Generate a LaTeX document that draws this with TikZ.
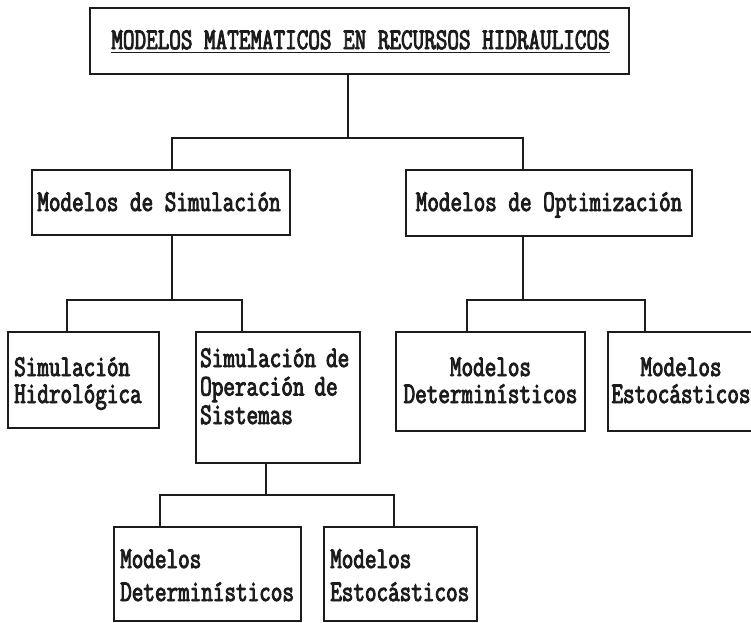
\documentclass[tikz,border=0pt]{standalone}
\usepackage{fontspec}
\newfontfamily\dotfont{Latin Modern Mono}[FakeStretch=0.75,FakeBold=3]
\definecolor{ink}{HTML}{1C1C1C}
\tikzset{
  box/.style={draw=ink, line width=2pt, inner sep=0pt},
  link/.style={draw=ink, line width=1.4pt},
  lbl/.style={inner sep=0pt, text=ink, font={\dotfont\fontsize{30}{27}\selectfont}},
  lefttxt/.style={lbl, align=left, text width=190pt, anchor=base west},
  midtxt/.style={lbl, align=center, text width=190pt, anchor=base}
}
\begin{document}
\begin{tikzpicture}[x=1pt,y=-1pt]
  \clip (0,0) rectangle (751,622);
  \fill[white] (0,0) rectangle (751,622);

  % level 0
  \node[box, minimum width=539pt, minimum height=66pt] (top) at (359.5,41) {};
  \node[lbl, anchor=base] (title) at (360.5,49) {MODELOS MATEMATICOS EN RECURSOS HIDRAULICOS};
  \draw[ink, line width=1.8pt] ([yshift=-3.5pt]title.base west) -- ([yshift=-3.5pt]title.base east);

  % level 1
  \node[box, minimum width=258pt, minimum height=65pt] (sim) at (161,202.5) {};
  \node[lbl, anchor=base] (simt) at (159,211) {Modelos de Simulación};
  \node[box, minimum width=286pt, minimum height=66pt] (opt) at (549,203) {};
  \node[lbl, anchor=base] (optt) at (549,211) {Modelos de Optimización};

  % level 2
  \node[box, minimum width=151pt, minimum height=96pt] (hid) at (83.5,380) {};
  \node[lefttxt] (hidt) at (14,376) {Simulación\\Hidrológica};
  \node[box, minimum width=164pt, minimum height=131pt] (ope) at (278,397.5) {};
  \node[lefttxt] (opet) at (200,367) {Simulación de\\[1.5pt]Operación de\\[1.5pt]Sistemas};
  \node[box, minimum width=189pt, minimum height=99pt] (det) at (490.5,381.5) {};
  \node[midtxt] (dett) at (490.5,376) {Modelos\\Determinísticos};
  \node[box, minimum width=167pt, minimum height=99pt] (est) at (691.5,381.5) {};
  \node[midtxt] (estt) at (681,376) {Modelos\\Estocásticos};

  % level 3
  \node[box, minimum width=187pt, minimum height=94pt] (det2) at (207.5,574) {};
  \node[lefttxt] (det2t) at (120,568) {Modelos\\[6pt]Determinísticos};
  \node[box, minimum width=153pt, minimum height=94pt] (est2) at (400.5,574) {};
  \node[lefttxt] (est2t) at (330,568) {Modelos\\[6pt]Estocásticos};

  % bus junctions
  \coordinate (j0) at (348,138);
  \coordinate (ds) at (172,138);
  \coordinate (do) at (523,138);
  \coordinate (js) at (172,300);
  \coordinate (jsa) at (67,300);
  \coordinate (jsb) at (242,300);
  \coordinate (jo) at (523,300);
  \coordinate (joa) at (467,300);
  \coordinate (job) at (645,300);
  \coordinate (jp) at (266,495);
  \coordinate (jpa) at (160,495);
  \coordinate (jpb) at (394,495);

  % connectors
  \draw[link] (top.south -| j0) -- (j0);
  \draw[link] (sim.north -| ds) -- (ds) -- (do) -- (opt.north -| do);

  \draw[link] (sim.south -| js) -- (js);
  \draw[link] (hid.north -| jsa) -- (jsa) -- (jsb) -- (ope.north -| jsb);

  \draw[link] (opt.south -| jo) -- (jo);
  \draw[link] (det.north -| joa) -- (joa) -- (job) -- (est.north -| job);

  \draw[link] (ope.south -| jp) -- (jp);
  \draw[link] (det2.north -| jpa) -- (jpa) -- (jpb) -- (est2.north -| jpb);
\end{tikzpicture}
\end{document}
